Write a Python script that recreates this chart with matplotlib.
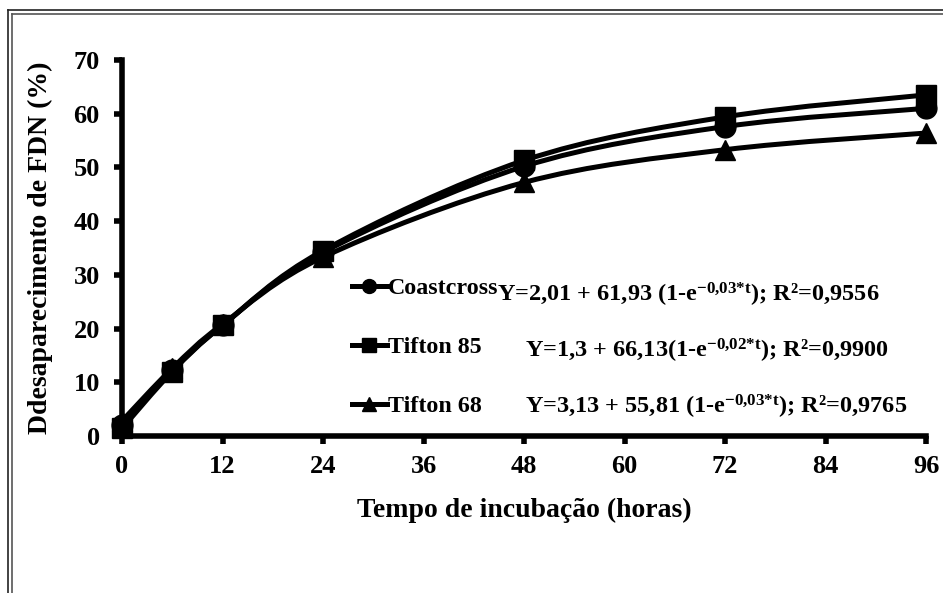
import numpy as np
import matplotlib
matplotlib.use('Agg')
import matplotlib.pyplot as plt
from matplotlib.path import Path
from matplotlib.patches import PathPatch
from matplotlib.lines import Line2D

# incubation times (h) and NDF disappearance (%)
tempo = [0, 6, 12, 24, 48, 72, 96]
coastcross = [2.0, 12.2, 20.6, 34.2, 50.2, 57.6, 61.0]
tifton85 = [1.4, 12.0, 20.6, 34.5, 51.3, 59.4, 63.5]
tifton68 = [2.8, 12.6, 20.8, 33.3, 47.2, 53.3, 56.4]

nomes = ['Coastcross', 'Tifton 85', 'Tifton 68']
marcadores = ['o', 's', '^']
equacoes = [
    r'Y=2,01 + 61,93 (1-e$^{\mathrm{-0{,}03{*}t}}$); R²=0,9556',
    r'Y=1,3 + 66,13(1-e$^{\mathrm{-0{,}02{*}t}}$); R²=0,9900',
    r'Y=3,13 + 55,81 (1-e$^{\mathrm{-0{,}03{*}t}}$); R²=0,9765',
]
xticks = [0, 12, 24, 36, 48, 60, 72, 84, 96]
yticks = [0, 10, 20, 30, 40, 50, 60, 70]

plt.rcParams['font.family'] = 'Liberation Serif'
plt.rcParams['font.weight'] = 'bold'
plt.rcParams['mathtext.fontset'] = 'custom'
plt.rcParams['mathtext.rm'] = 'Liberation Serif:bold'
plt.rcParams['mathtext.bf'] = 'Liberation Serif:bold'
plt.rcParams['mathtext.default'] = 'rm'


def smooth_path(x, y):
    # excel-like smoothed line (catmull-rom as cubic bezier)
    pts = np.column_stack([x, y]).astype(float)
    verts = [pts[0]]
    codes = [Path.MOVETO]
    n = len(pts)
    for i in range(n - 1):
        p0 = pts[i - 1] if i > 0 else pts[i]
        p1 = pts[i]
        p2 = pts[i + 1]
        p3 = pts[i + 2] if i + 2 < n else pts[i + 1]
        verts += [p1 + (p2 - p0) / 6, p2 - (p3 - p1) / 6, p2]
        codes += [Path.CURVE4] * 3
    return Path(verts, codes)


fig = plt.figure(figsize=(9.43, 5.93), dpi=100)
ax = fig.add_axes([122 / 943, 1 - 436 / 593, 804 / 943, 376 / 593])

handles = []
for serie, mk, nome in zip([coastcross, tifton85, tifton68], marcadores, nomes):
    ax.add_patch(PathPatch(smooth_path(tempo, serie), fill=False, ec='black',
                           lw=3.6, zorder=3))
    ax.plot(tempo, serie, ls='none', marker=mk, ms=15, color='black', zorder=4,
            clip_on=False)
    handles.append(Line2D([], [], color='black', lw=3.6, marker=mk, ms=10,
                          label=nome))

ax.set_xlim(0, 96)
ax.set_ylim(0, 70)
ax.set_xticks(xticks)
ax.set_yticks(yticks)
ax.spines['top'].set_visible(False)
ax.spines['right'].set_visible(False)
ax.spines['left'].set_linewidth(4)
ax.spines['bottom'].set_linewidth(4)
ax.tick_params(axis='both', direction='out', length=6, width=4, labelsize=19)
ax.tick_params(axis='y', pad=10)
ax.tick_params(axis='x', pad=8)
ax.set_xlabel('Tempo de incubação (horas)', fontsize=20, fontweight='bold',
              labelpad=14)
ax.set_ylabel('Ddesaparecimento de FDN (%)', fontsize=20, fontweight='bold',
              labelpad=15)

leg = ax.legend(handles=handles, loc='upper left', bbox_to_anchor=(0.286, 0.422),
                frameon=False, fontsize=17.3, handlelength=1.45, handletextpad=0.05,
                labelspacing=1.55, borderpad=0, borderaxespad=0)

eq_pos = [(0.466, 0.376), (0.501, 0.226), (0.501, 0.076)]
for (ex, ey), eq in zip(eq_pos, equacoes):
    ax.text(ex, ey, eq, transform=ax.transAxes, fontsize=17.5, ha='left',
            va='center')

# double frame around the figure (top and left)
for off, cor in [(0, '#222222'), (4, '#555555')]:
    fig.add_artist(Line2D([(8 + off) / 943, 1], [1 - (10 + off) / 593] * 2,
                          color=cor, lw=1.2, transform=fig.transFigure))
    fig.add_artist(Line2D([(8 + off) / 943] * 2, [0, 1 - (10 + off) / 593],
                          color=cor, lw=1.2, transform=fig.transFigure))

fig.savefig('out.png', dpi=100)
